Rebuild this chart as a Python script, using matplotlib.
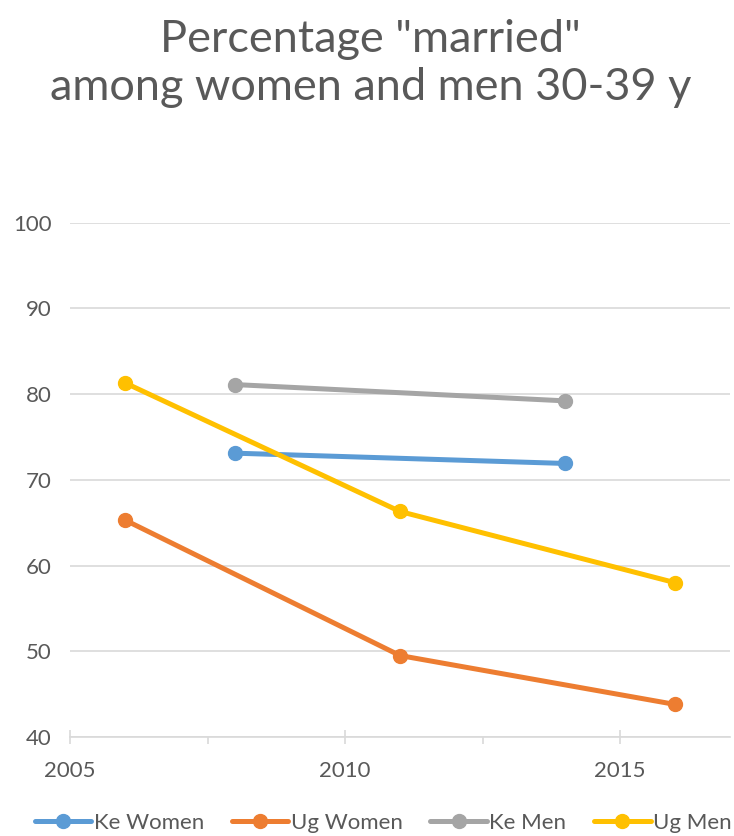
import numpy as np
import matplotlib.pyplot as plt
from matplotlib.ticker import MultipleLocator

# data
ke_years = [2008, 2014]
ug_years = [2006, 2011, 2016]
ke_women = [73.1, 71.9]
ug_women = [65.3, 49.5, 43.8]
ke_men = [81.1, 79.2]
ug_men = [81.3, 66.3, 58.0]

series = [
    ("Ke Women", ke_years, ke_women, "#5B9BD5"),
    ("Ug Women", ug_years, ug_women, "#ED7D31"),
    ("Ke Men", ke_years, ke_men, "#A5A5A5"),
    ("Ug Men", ug_years, ug_men, "#FFC000"),
]

plt.rcParams['font.family'] = ['Lato', 'DejaVu Sans']
text_col = "#595959"
grid_col = "#D9D9D9"

fig = plt.figure(figsize=(7.34, 8.36), dpi=100)
ax = fig.add_axes([70 / 734, 1 - 737 / 836, 660 / 734, (737 - 222.5) / 836])

for name, xs, ys, col in series:
    ax.plot(xs, ys, color=col, lw=3.6, marker='o', ms=10, label=name,
            solid_capstyle='round', zorder=3)

ax.set_xlim(2005, 2017)
ax.set_ylim(40, 100)
ax.yaxis.set_major_locator(MultipleLocator(10))
ax.xaxis.set_major_locator(MultipleLocator(5))
ax.xaxis.set_minor_locator(MultipleLocator(2.5))
ax.yaxis.grid(True, color=grid_col, lw=1.2)
ax.set_axisbelow(True)

for s in ['top', 'right', 'left']:
    ax.spines[s].set_visible(False)
ax.spines['bottom'].set_color(grid_col)
ax.spines['bottom'].set_linewidth(1.2)

ax.tick_params(axis='y', length=0, labelsize=16, labelcolor=text_col, pad=13)
ax.tick_params(axis='x', which='major', direction='inout', length=10, width=1.2,
               color=grid_col, labelsize=16, labelcolor=text_col, pad=12)
ax.tick_params(axis='x', which='minor', direction='out', length=5, width=1.2,
               color=grid_col)

fig.text(0.505, 0.977, 'Percentage "married"\namong women and men 30-39 y',
         ha='center', va='top', fontsize=32.5, color=text_col, linespacing=1.22)

fig.legend(loc='center', bbox_to_anchor=(0.522, 1 - 823 / 836), ncol=4,
           frameon=False, fontsize=16, labelcolor=text_col, handlelength=2.55,
           handletextpad=0.1, columnspacing=1.25, borderaxespad=0)

fig.savefig("out.png", dpi=100)
